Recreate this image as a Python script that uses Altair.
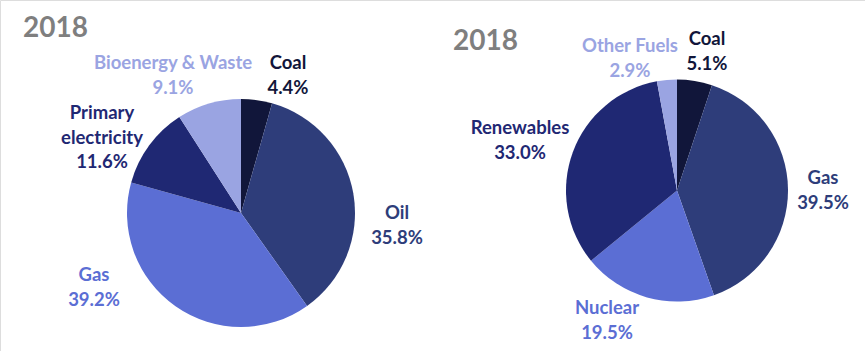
import altair as alt
import pandas as pd

# ---------------- data ----------------
left_title = "2018"
left_categories = ["Coal", "Oil", "Gas", "Primary electricity", "Bioenergy & Waste"]
left_values = [4.4, 35.8, 39.2, 11.6, 9.1]

right_title = "2018"
right_categories = ["Coal", "Gas", "Nuclear", "Renewables", "Other Fuels"]
right_values = [5.1, 39.5, 19.5, 33.0, 2.9]

# ---------------- styles / layout ----------------
W, H = 865, 351
palette = ["#11163A", "#2E3D7A", "#5B6ED4", "#1F2873", "#9AA4E2"]
FONT = "Lato"
LABEL_SIZE = 18.5
TITLE_COLOR = "#7F7F7F"

left_geom = dict(cx=241, cy=213, r=114, title_x=23, title_y=37)
right_geom = dict(cx=677, cy=190.5, r=111, title_x=453, title_y=50)

# label positions: centre x, middle of first line y (pixels)
left_label_pos = {
    "Coal": (288, 63),
    "Oil": (397, 213),
    "Gas": (94, 275),
    "Primary electricity": (102, 113),
    "Bioenergy & Waste": (173, 63),
}
right_label_pos = {
    "Coal": (707, 39),
    "Gas": (823, 178),
    "Nuclear": (607, 308),
    "Renewables": (520, 128),
    "Other Fuels": (630, 46),
}


def pie_layers(cats, vals, geom, label_pos, title):
    df = pd.DataFrame({"category": cats, "value": vals, "order": list(range(len(cats)))})
    color = alt.Color("category:N", scale=alt.Scale(domain=cats, range=palette), legend=None)
    arcs = alt.Chart(df).mark_arc(outerRadius=geom["r"]).encode(
        theta=alt.Theta("value:Q", stack=True),
        order=alt.Order("order:Q"),
        color=color,
        x=alt.value(geom["cx"]),
        y=alt.value(geom["cy"]),
    )
    lab = df.copy()
    lab["label"] = [
        c.replace("Primary ", "Primary\n") + "\n" + f"{v:.1f}%" for c, v in zip(cats, vals)
    ]
    lab["lx"] = [label_pos[c][0] for c in cats]
    lab["ly"] = [label_pos[c][1] for c in cats]
    labels = alt.Chart(lab).mark_text(
        font=FONT, fontSize=LABEL_SIZE, fontWeight="bold", align="center",
        baseline="middle", lineBreak="\n", lineHeight=24.5,
    ).encode(
        x=alt.X("lx:Q", scale=None, axis=None),
        y=alt.Y("ly:Q", scale=None, axis=None),
        text="label:N",
        color=color,
    )
    ttl = alt.Chart(pd.DataFrame({"t": [title]})).mark_text(
        font=FONT, fontSize=28, fontWeight="bold", align="left",
        baseline="alphabetic", color=TITLE_COLOR,
    ).encode(x=alt.value(geom["title_x"]), y=alt.value(geom["title_y"]), text="t:N")
    return [arcs, labels, ttl]


layers = pie_layers(left_categories, left_values, left_geom, left_label_pos, left_title) + \
    pie_layers(right_categories, right_values, right_geom, right_label_pos, right_title)

chart = alt.layer(*layers).resolve_scale(
    theta="independent", color="independent"
).properties(
    width=W, height=H, padding=0, autosize=alt.AutoSizeParams(type="none"),
).configure_view(stroke=None).configure(background="white")

chart.save("out.html", embed_options={"renderer": "svg", "actions": False})
